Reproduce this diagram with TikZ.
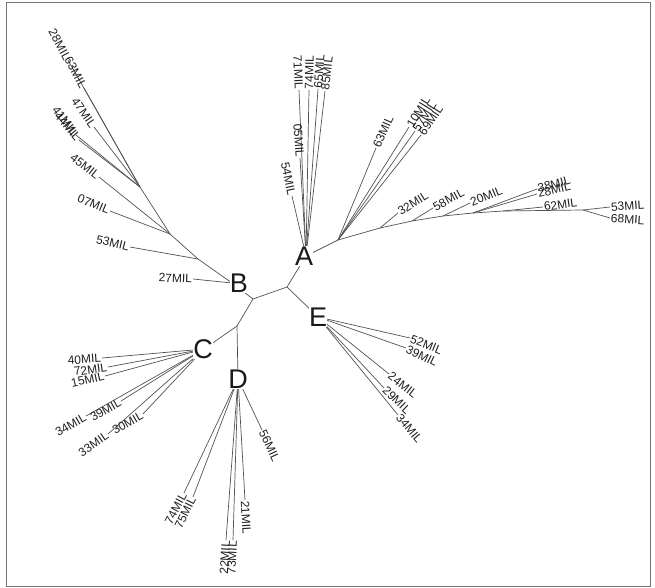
\documentclass[tikz,border=0pt]{standalone}
\usepackage{fontspec}
\setmainfont{Liberation Sans}
\newfontfamily\labfam{Liberation Sans}
\begin{document}
\begin{tikzpicture}[x=1pt,y=-1pt,
  br/.style={draw=black!68, line width=0.7pt},
  lab/.style={font=\labfam\fontsize{12}{13}\selectfont, text=black!88, inner sep=0.8pt},
  big/.style={font=\labfam\fontsize{27}{28}\selectfont, text=black!90, fill=white, inner sep=0.3pt},
  frame/.style={draw=black!55, line width=1pt}]
\useasboundingbox (0,0) rectangle (655,588);
\draw[frame] (6,3) rectangle (650,586);

% ---- internal nodes
\coordinate (n1) at (253,299);
\coordinate (n2) at (287,287);
\coordinate (n3) at (237,326);
\coordinate (An) at (306,256);
\coordinate (Bn) at (232,283);
\coordinate (Cn) at (204,349);
\coordinate (Dn) at (238,379);
\coordinate (En) at (318,317);
\coordinate (J1) at (338,240);
\coordinate (r1) at (380,228);
\coordinate (r2) at (412,221);
\coordinate (r3) at (443,216);
\coordinate (r4) at (473,213);
\coordinate (r5) at (503,211);
\coordinate (r6) at (583,210);
\coordinate (b1) at (198,259);
\coordinate (b2) at (170,234);
\coordinate (b3) at (140,187);

% ---- tips
\coordinate (ta1) at (299,90);
\coordinate (ta2) at (309,90);
\coordinate (ta3) at (318,89);
\coordinate (ta4) at (325,91);
\coordinate (ta5) at (300,158);
\coordinate (ta6) at (292,196);
\coordinate (tb1) at (376,148);
\coordinate (tb2) at (409,127);
\coordinate (tb3) at (415,131);
\coordinate (tb4) at (421,135);
\coordinate (tc1) at (398,213);
\coordinate (tc2) at (433,208);
\coordinate (tc3) at (470,203);
\coordinate (tc4) at (537,189);
\coordinate (tc5) at (537,194);
\coordinate (tc6) at (543,207);
\coordinate (tc7) at (610,207);
\coordinate (tc8) at (610,218);
\coordinate (te1) at (410,338);
\coordinate (te2) at (406,348);
\coordinate (te3) at (389,374);
\coordinate (te4) at (384,388);
\coordinate (te5) at (398,415);
\coordinate (tf1) at (102,358);
\coordinate (tf2) at (108,367);
\coordinate (tf3) at (105,376);
\coordinate (tf4) at (121,401);
\coordinate (tf5) at (86,416);
\coordinate (tf6) at (143,414);
\coordinate (tf7) at (108,434);
\coordinate (tg1) at (262,430);
\coordinate (tg2) at (184,493);
\coordinate (tg3) at (193,497);
\coordinate (tg4) at (226,540);
\coordinate (tg5) at (233,540);
\coordinate (tg6) at (245,500);
\coordinate (th1) at (193,279);
\coordinate (th2) at (130,247);
\coordinate (th3) at (110,211);
\coordinate (th4) at (99,177);
\coordinate (th5) at (79,140);
\coordinate (th6) at (76,135);
\coordinate (th7) at (94,127);
\coordinate (th8) at (84,88);
\coordinate (th9) at (68,60);

% ---- backbone
\draw[br] (Bn) -- (n1) -- (n2) -- (An);
\draw[br] (n2) -- (En);
\draw[br] (n1) -- (n3) -- (Cn);
\draw[br] (n3) -- (Dn);
\draw[br] (An) -- (J1) -- (r1) -- (r2) -- (r3) -- (r4) -- (r5) -- (r6);
\draw[br] (Bn) -- (b1) -- (b2) -- (b3);

% ---- branches to tips
\foreach \t in {ta1,ta2,ta3,ta4,ta5,ta6} \draw[br] (An) -- (\t);
\foreach \t in {tb1,tb2,tb3,tb4} \draw[br] (J1) -- (\t);
\draw[br] (r1) -- (tc1);
\draw[br] (r2) -- (tc2);
\draw[br] (r3) -- (tc3);
\draw[br] (r4) -- (tc4);
\draw[br] (r4) -- (tc5);
\draw[br] (r5) -- (tc6);
\draw[br] (r6) -- (tc7);
\draw[br] (r6) -- (tc8);
\foreach \t in {te1,te2,te3,te4,te5} \draw[br] (En) -- (\t);
\foreach \t in {tf1,tf2,tf3,tf4,tf5,tf6,tf7} \draw[br] (Cn) -- (\t);
\foreach \t in {tg1,tg2,tg3,tg4,tg5,tg6} \draw[br] (Dn) -- (\t);
\draw[br] (Bn) -- (th1);
\draw[br] (b1) -- (th2);
\draw[br] (b2) -- (th3);
\draw[br] (b2) -- (th4);
\foreach \t in {th5,th6,th7,th8,th9} \draw[br] (b3) -- (\t);

% ---- tip labels
\node[lab, rotate=-87.6, anchor=east] (la1) at (ta1) {71MIL};
\node[lab, rotate=89, anchor=west] (la2) at (ta2) {74MIL};
\node[lab, rotate=86, anchor=west] (la3) at (ta3) {65MIL};
\node[lab, rotate=84, anchor=west] (la4) at (ta4) {85MIL};
\node[lab, rotate=-86, anchor=east] (la5) at (ta5) {05MIL};
\node[lab, rotate=-78, anchor=east] (la6) at (ta6) {54MIL};
\node[lab, rotate=66, anchor=west] (lb1) at (tb1) {63MIL};
\node[lab, rotate=58, anchor=west] (lb2) at (tb2) {10MIL};
\node[lab, rotate=57, anchor=west] (lb3) at (tb3) {57MIL};
\node[lab, rotate=56, anchor=west] (lb4) at (tb4) {69MIL};
\node[lab, rotate=32, anchor=west] (lc1) at (tc1) {32MIL};
\node[lab, rotate=28, anchor=west] (lc2) at (tc2) {58MIL};
\node[lab, rotate=22, anchor=west] (lc3) at (tc3) {20MIL};
\node[lab, rotate=16, anchor=west] (lc4) at (tc4) {38MIL};
\node[lab, rotate=13, anchor=west] (lc5) at (tc5) {28MIL};
\node[lab, rotate=8, anchor=west] (lc6) at (tc6) {62MIL};
\node[lab, rotate=4, anchor=west] (lc7) at (tc7) {53MIL};
\node[lab, rotate=-4, anchor=west] (lc8) at (tc8) {68MIL};
\node[lab, rotate=-22, anchor=west] (le1) at (te1) {52MIL};
\node[lab, rotate=-26, anchor=west] (le2) at (te2) {39MIL};
\node[lab, rotate=-38, anchor=west] (le3) at (te3) {24MIL};
\node[lab, rotate=-44, anchor=west] (le4) at (te4) {29MIL};
\node[lab, rotate=-50, anchor=west] (le5) at (te5) {34MIL};
\node[lab, rotate=4, anchor=east] (lf1) at (tf1) {40MIL};
\node[lab, rotate=8, anchor=east] (lf2) at (tf2) {72MIL};
\node[lab, rotate=12, anchor=east] (lf3) at (tf3) {15MIL};
\node[lab, rotate=30, anchor=east] (lf4) at (tf4) {39MIL};
\node[lab, rotate=30, anchor=east] (lf5) at (tf5) {34MIL};
\node[lab, rotate=30, anchor=east] (lf6) at (tf6) {30MIL};
\node[lab, rotate=35, anchor=east] (lf7) at (tf7) {33MIL};
\node[lab, rotate=-65, anchor=west] (lg1) at (tg1) {56MIL};
\node[lab, rotate=62, anchor=east] (lg2) at (tg2) {74MIL};
\node[lab, rotate=64, anchor=east] (lg3) at (tg3) {75MIL};
\node[lab, rotate=86, anchor=east] (lg4) at (tg4) {22MIL};
\node[lab, rotate=87, anchor=east] (lg5) at (tg5) {73MIL};
\node[lab, rotate=-87, anchor=west] (lg6) at (tg6) {21MIL};
\node[lab, rotate=-2, anchor=east] (lh1) at (th1) {27MIL};
\node[lab, rotate=-13, anchor=east] (lh2) at (th2) {53MIL};
\node[lab, rotate=-22, anchor=east] (lh3) at (th3) {07MIL};
\node[lab, rotate=-38, anchor=east] (lh4) at (th4) {45MIL};
\node[lab, rotate=-50, anchor=east] (lh5) at (th5) {44MIL};
\node[lab, rotate=-52, anchor=east] (lh6) at (th6) {41MIL};
\node[lab, rotate=-55, anchor=east] (lh7) at (th7) {47MIL};
\node[lab, rotate=-62, anchor=east] (lh8) at (th8) {63MIL};
\node[lab, rotate=-62, anchor=east] (lh9) at (th9) {28MIL};

% ---- clade letters
\node[big] (A) at (304,256) {A};
\node[big] (B) at (239,283) {B};
\node[big] (C) at (203,349) {C};
\node[big] (D) at (238,379) {D};
\node[big] (E) at (318,317) {E};
\end{tikzpicture}
\end{document}
